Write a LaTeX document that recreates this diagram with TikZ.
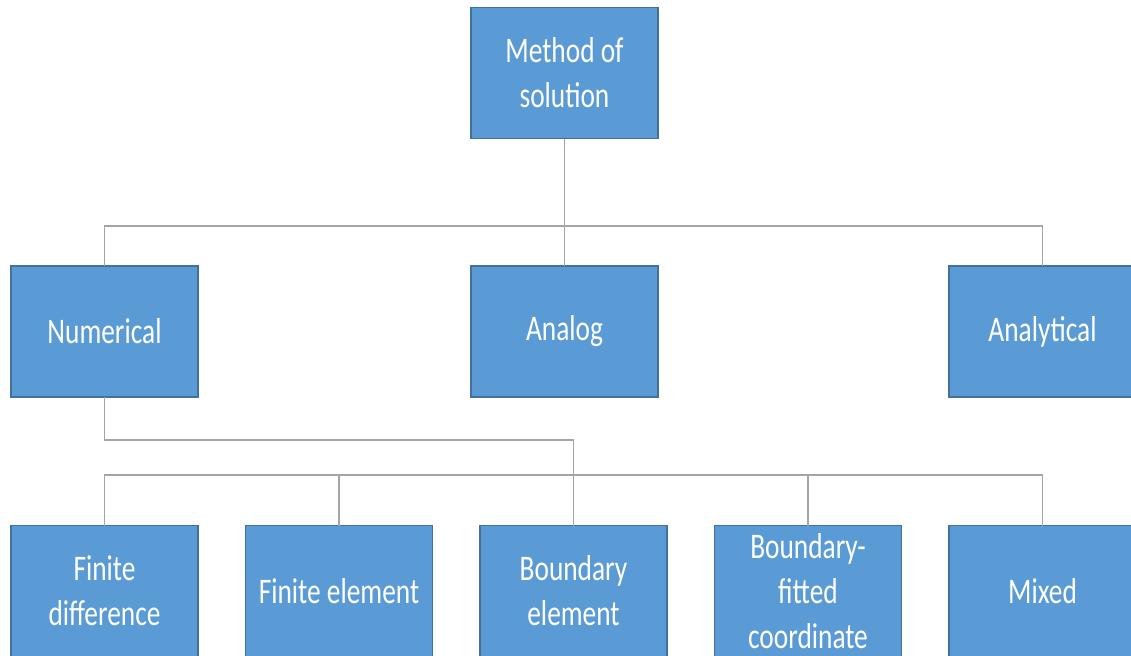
\documentclass[tikz,border=0pt]{standalone}
\usepackage{fontspec}
\setmainfont[FakeStretch=0.76]{Carlito}
\usepackage{tikz}
\usetikzlibrary{positioning}
\definecolor{boxfill}{HTML}{5B9BD5}
\definecolor{boxline}{HTML}{41719C}
\definecolor{linkgray}{HTML}{A5A5A5}
\tikzstyle{blockbox} = [rectangle,draw=boxline,fill=boxfill,line width=0.7pt,text=white,align=center,minimum width=93.5pt,minimum height=65.5pt,inner sep=0pt,outer sep=0pt,font=\fontsize{18}{22.5}\selectfont]
\tikzstyle{link} = [draw=linkgray,line width=0.55pt]

\begin{document}
\begin{tikzpicture}
	[x=0.5pt,y=-0.5pt,node distance=23.75pt]
	\useasboundingbox (0,0) rectangle (1131,655);
	\node (method) [blockbox] at (564.5,73) {Method of\\solution};
	\node (numerical) [blockbox] at (104.5,331.5) {Numerical};
	\node (analog) [blockbox] at (564.5,331.5) {Analog};
	\node (analytical) [blockbox] at (1042.5,331.5) {Analytical};
	\node (findiff) [blockbox] at (104.5,591) {Finite\\difference};
	\node (finelem) [blockbox,right=of findiff] {Finite element};
	\node (bndelem) [blockbox,right=of finelem] {Boundary\\element};
	\node (bndfit) [blockbox,right=of bndelem] {Boundary-\\fitted\\coordinate};
	\node (mixed) [blockbox,right=of bndfit] {Mixed};
	\coordinate (topbus) at (564.5,226);
	\coordinate (lowbus) at (104.5,475);
	\coordinate (numbend) at (104.5,440);
	\path[link]
		(method) -- (topbus)
		(numerical.north) |- (topbus) -| (analytical.north)
		(topbus) -- (analog);
	\path[link] (numerical) -- (numbend) -| (bndelem.north);
	\path[link] (findiff.north) -- (lowbus) -| (mixed.north);
	\foreach \n in {finelem,bndfit}
		\path[link] (\n.north) -- (\n.north |- lowbus);
\end{tikzpicture}
\end{document}
